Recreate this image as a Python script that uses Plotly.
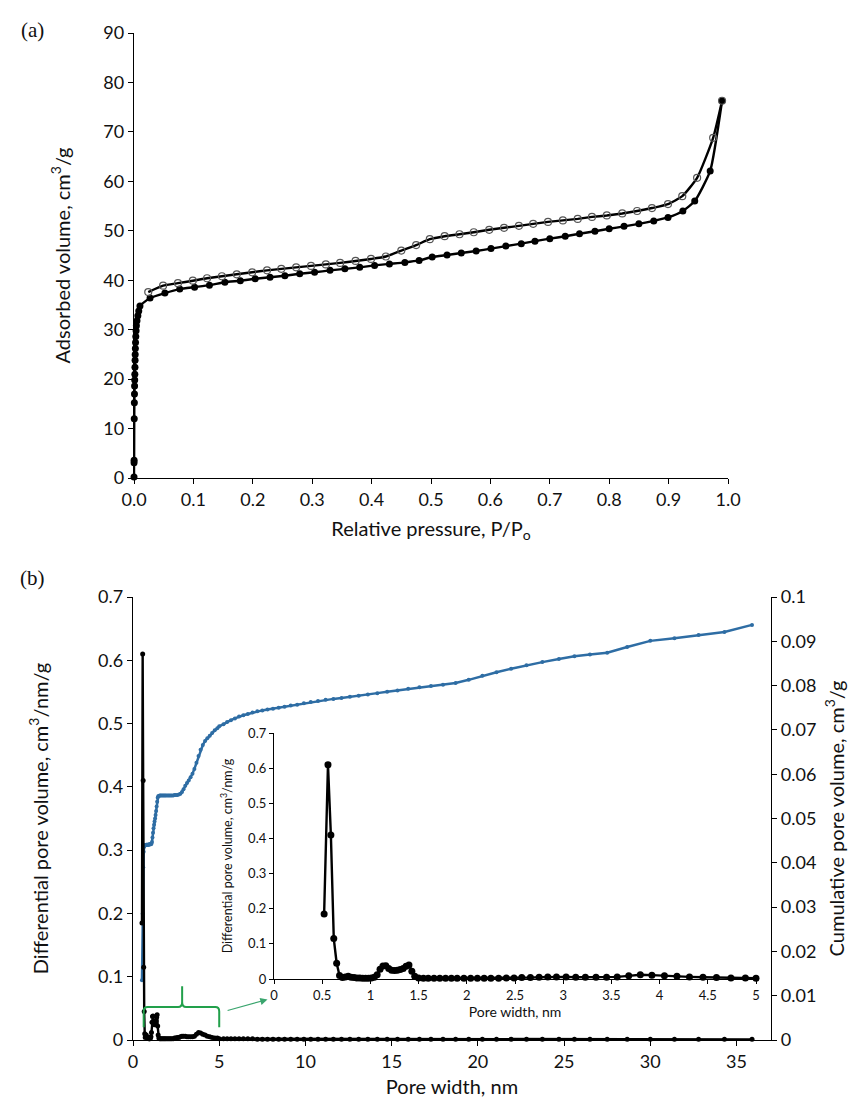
import plotly.graph_objects as go

W, H = 862, 1103

# ---------------- (a) N2 isotherm ----------------
ads_p = [0.0000, 0.0001, 0.0002, 0.0004, 0.0006, 0.0008, 0.0010, 0.0012, 0.0014, 0.0016,
         0.0018, 0.0020, 0.0023, 0.0026, 0.0030, 0.0035, 0.0040, 0.0050, 0.0065, 0.0080,
         0.0100, 0.027, 0.052, 0.077, 0.102, 0.127, 0.153, 0.179, 0.204, 0.229,
         0.254, 0.279, 0.304, 0.330, 0.355, 0.380, 0.405, 0.430, 0.456, 0.480,
         0.502, 0.527, 0.551, 0.576, 0.601, 0.626, 0.652, 0.675, 0.700, 0.726,
         0.750, 0.776, 0.800, 0.825, 0.850, 0.875, 0.899, 0.924, 0.944, 0.970, 0.990]
ads_v = [0.2, 3.1, 3.6, 12.0, 15.2, 17.0, 18.6, 19.8, 21.0, 22.4,
         23.8, 25.0, 26.2, 27.4, 28.6, 29.8, 30.8, 31.8, 32.8, 33.8,
         34.8, 36.4, 37.4, 38.2, 38.6, 39.0, 39.6, 39.9, 40.3, 40.6,
         40.9, 41.3, 41.6, 42.0, 42.3, 42.6, 43.0, 43.3, 43.6, 44.0,
         44.7, 45.1, 45.5, 45.9, 46.4, 46.9, 47.4, 47.9, 48.4, 48.9,
         49.4, 49.9, 50.4, 50.9, 51.4, 52.0, 52.7, 54.0, 56.0, 62.1, 76.3]

des_p = [0.024, 0.049, 0.074, 0.099, 0.123, 0.148, 0.173, 0.199, 0.224, 0.248,
         0.273, 0.298, 0.323, 0.347, 0.373, 0.399, 0.424, 0.450, 0.475, 0.498,
         0.523, 0.548, 0.572, 0.598, 0.623, 0.648, 0.672, 0.697, 0.722, 0.747,
         0.771, 0.796, 0.822, 0.847, 0.872, 0.899, 0.923, 0.948, 0.975, 0.990]
des_v = [37.6, 38.9, 39.4, 39.9, 40.4, 40.8, 41.2, 41.6, 42.0, 42.3,
         42.6, 42.9, 43.2, 43.5, 43.9, 44.3, 44.8, 46.0, 47.1, 48.3,
         48.9, 49.3, 49.7, 50.2, 50.6, 51.0, 51.4, 51.8, 52.1, 52.4,
         52.8, 53.1, 53.5, 54.0, 54.6, 55.4, 57.0, 60.7, 68.8, 76.3]

# ---------------- (b) pore size distribution ----------------
w_A = [0.52, 0.56, 0.59, 0.62, 0.65, 0.68, 0.71, 0.74, 0.77, 0.80,
       0.83, 0.86, 0.89, 0.92, 0.95, 0.98, 1.01, 1.04, 1.07, 1.10,
       1.13, 1.16, 1.19, 1.22, 1.25, 1.28, 1.31, 1.34, 1.37, 1.40,
       1.43, 1.46, 1.50]
dv_A = [0.185, 0.610, 0.410, 0.115, 0.045, 0.010, 0.004, 0.006, 0.008, 0.005,
        0.004, 0.003, 0.003, 0.002, 0.002, 0.002, 0.003, 0.005, 0.012, 0.028,
        0.037, 0.038, 0.030, 0.025, 0.024, 0.025, 0.027, 0.030, 0.036, 0.040,
        0.022, 0.008, 0.003]
cv_A = [0.0135, 0.0285, 0.0390, 0.0425, 0.0436, 0.0439, 0.0440, 0.0440, 0.0441, 0.0441,
        0.0441, 0.0441, 0.0441, 0.0441, 0.0442, 0.0442, 0.0442, 0.0442, 0.0443, 0.0447,
        0.0457, 0.0468, 0.0478, 0.0486, 0.0493, 0.0500, 0.0508, 0.0517, 0.0527, 0.0538,
        0.0547, 0.0550, 0.0551]

w_B = [1.55, 1.60, 1.66, 1.72, 1.78, 1.84, 1.90, 1.97, 2.04, 2.11,
       2.18, 2.25, 2.33, 2.41, 2.49, 2.57, 2.66, 2.75, 2.84, 2.93,
       3.03, 3.13, 3.23, 3.34, 3.45, 3.56, 3.68, 3.80, 3.92, 4.05,
       4.18, 4.31, 4.45, 4.59, 4.74, 4.89, 5.00]
dv_B = [0.002, 0.002, 0.002, 0.002, 0.002, 0.002, 0.002, 0.002, 0.002, 0.002,
        0.002, 0.002, 0.002, 0.003, 0.003, 0.004, 0.004, 0.005, 0.006, 0.006,
        0.006, 0.005, 0.005, 0.005, 0.005, 0.006, 0.009, 0.012, 0.011, 0.009,
        0.008, 0.006, 0.005, 0.004, 0.003, 0.003, 0.002]
cv_B = [0.0552, 0.0552, 0.0552, 0.0552, 0.0552, 0.0552, 0.0552, 0.0552, 0.0552, 0.0552,
        0.0552, 0.0552, 0.0552, 0.0553, 0.0553, 0.0553, 0.0554, 0.0556, 0.0560, 0.0566,
        0.0574, 0.0580, 0.0586, 0.0593, 0.0601, 0.0612, 0.0626, 0.0641, 0.0655, 0.0666,
        0.0675, 0.0681, 0.0687, 0.0693, 0.0699, 0.0704, 0.0708]

w_C = [5.25, 5.46, 5.68, 5.91, 6.15, 6.40, 6.66, 6.93, 7.21, 7.50,
       7.80, 8.12, 8.45, 8.79, 9.15, 9.52, 9.91, 10.31, 10.73, 11.17,
       11.62, 12.09, 12.58, 13.09, 13.62, 14.17, 14.74, 15.34, 15.96, 16.61,
       17.28, 17.98, 18.71, 19.47, 20.26, 21.08, 21.93, 22.82, 23.74, 24.70,
       25.60, 26.50, 27.50, 28.66, 30.00, 31.40, 32.80, 34.30, 35.90]
dv_C = [0.002, 0.002, 0.002, 0.002, 0.002, 0.002, 0.002, 0.002, 0.001, 0.001,
        0.001, 0.001, 0.001, 0.001, 0.001, 0.001, 0.001, 0.001, 0.001, 0.001,
        0.001, 0.001, 0.001, 0.001, 0.001, 0.001, 0.001, 0.001, 0.001, 0.001,
        0.001, 0.001, 0.001, 0.001, 0.001, 0.001, 0.001, 0.001, 0.001, 0.001,
        0.001, 0.001, 0.001, 0.001, 0.001, 0.001, 0.001, 0.001, 0.001]
cv_C = [0.0713, 0.0718, 0.0722, 0.0726, 0.0730, 0.0733, 0.0736, 0.0739, 0.0742, 0.0744,
        0.0746, 0.0748, 0.0750, 0.0752, 0.0755, 0.0757, 0.0760, 0.0763, 0.0765, 0.0768,
        0.0770, 0.0772, 0.0775, 0.0777, 0.0780, 0.0783, 0.0786, 0.0789, 0.0793, 0.0796,
        0.0799, 0.0802, 0.0806, 0.0813, 0.0822, 0.0830, 0.0838, 0.0846, 0.0853, 0.0860,
        0.0866, 0.0870, 0.0874, 0.0887, 0.0901, 0.0907, 0.0914, 0.0921, 0.0937]

pore_w = w_A + w_B + w_C
diff_v = dv_A + dv_B + dv_C
cum_v = cv_A + cv_B + cv_C
inset_w = [w for w in pore_w if w <= 5.0]
inset_v = diff_v[:len(inset_w)]

BLUE = "#2E6DA4"
GREEN = "#22A04B"
FONT = "Lato"
TXT = "#111111"


def fx(p):
    return p / W


def fy(p):
    return 1 - p / H


fig = go.Figure()

# (a)
fig.add_trace(go.Scatter(x=ads_p, y=ads_v, mode="lines+markers", xaxis="x", yaxis="y",
                         line=dict(color="black", width=2.4, shape="spline", smoothing=0.5),
                         marker=dict(symbol="circle", size=7, color="black"),
                         cliponaxis=False, showlegend=False))
fig.add_trace(go.Scatter(x=des_p, y=des_v, mode="lines+markers", xaxis="x", yaxis="y",
                         line=dict(color="black", width=2.4, shape="spline", smoothing=0.5),
                         marker=dict(symbol="circle-open", size=7, color="#555555", line=dict(width=1.2)),
                         cliponaxis=False, showlegend=False))

# (b) main: cumulative (base axis y2, right) and differential (overlay y3, left)
fig.add_trace(go.Scatter(x=pore_w, y=cum_v, mode="lines+markers", xaxis="x2", yaxis="y2",
                         line=dict(color=BLUE, width=2.5),
                         marker=dict(symbol="circle", size=4, color=BLUE),
                         cliponaxis=False, showlegend=False))
fig.add_trace(go.Scatter(x=pore_w, y=diff_v, mode="lines+markers", xaxis="x2", yaxis="y3",
                         line=dict(color="black", width=2.4),
                         marker=dict(symbol="circle", size=5, color="black"),
                         cliponaxis=False, showlegend=False))
# inset
fig.add_trace(go.Scatter(x=inset_w, y=inset_v, mode="lines+markers", xaxis="x4", yaxis="y4",
                         line=dict(color="black", width=2.4),
                         marker=dict(symbol="circle", size=7, color="black"),
                         cliponaxis=False, showlegend=False))

axis_common = dict(showline=True, linecolor="black", linewidth=1.3, ticks="outside", ticklen=5,
                   tickwidth=1.3, tickcolor="black", showgrid=False, zeroline=False,
                   tickfont=dict(family=FONT, size=18, color=TXT))
inset_common = dict(axis_common, tickfont=dict(family=FONT, size=13, color=TXT), ticklen=4)


def ttl(text, size, standoff):
    return dict(text=text, font=dict(family=FONT, size=size, color=TXT), standoff=standoff)


fig.update_layout(
    width=W, height=H, margin=dict(l=0, r=0, t=0, b=0),
    paper_bgcolor="white", plot_bgcolor="rgba(0,0,0,0)",
    font=dict(family=FONT, color=TXT),
    xaxis=dict(axis_common, domain=[fx(126), fx(720)], range=[0, 1.0], tick0=0, dtick=0.1,
               tickformat=".1f", anchor="y", automargin=False,
               title=ttl("Relative pressure, P/P<sub>o</sub>", 20, 13)),
    yaxis=dict(axis_common, domain=[fy(470), fy(25)], range=[0, 90], tick0=0, dtick=10, anchor="x",
               automargin=False, title=ttl("Adsorbed volume, cm<sup>3</sup>/g", 20, 27)),
    xaxis2=dict(axis_common, domain=[fx(125), fx(763)], range=[0, 37], tick0=0, dtick=5, anchor="y2",
                automargin=False, title=ttl("Pore width, nm", 20, 9)),
    yaxis2=dict(axis_common, domain=[fy(1032), fy(589)], range=[0, 0.1], tick0=0, dtick=0.01,
                side="right", anchor="x2", automargin=False,
                title=ttl("Cumulative pore volume, cm<sup>3</sup>/g", 20, 14)),
    yaxis3=dict(axis_common, range=[0, 0.7], tick0=0, dtick=0.1, side="left",
                overlaying="y2", anchor="x2", automargin=False,
                title=ttl("Differential pore volume, cm<sup>3</sup>/nm/g", 20, 44)),
    xaxis4=dict(inset_common, domain=[fx(266), fx(748)], range=[0, 5], tick0=0, dtick=0.5, anchor="y4",
                automargin=False, title=ttl("Pore width, nm", 14, 5)),
    yaxis4=dict(inset_common, domain=[fy(971), fy(725)], range=[0, 0.7], tick0=0, dtick=0.1, anchor="x4",
                automargin=False, title=ttl("Differential pore volume, cm<sup>3</sup>/nm/g", 12.5, 12)),
)

for txt, yy in (("(a)", 22), ("(b)", 570)):
    fig.add_annotation(text=txt, x=fx(24), y=fy(yy), xref="paper", yref="paper",
                       showarrow=False, xanchor="center", yanchor="middle",
                       font=dict(family="Liberation Serif", size=21, color=TXT))

# green curly bracket marking the 0-5 nm region shown in the inset
fig.add_shape(type="path", xref="x2", yref="y3",
              path=("M 0.62,0.020 L 0.62,0.045 Q 0.62,0.052 0.85,0.052 L 2.62,0.052 "
                    "Q 2.85,0.052 2.85,0.060 L 2.85,0.085 M 2.85,0.060 Q 2.85,0.052 3.08,0.052 "
                    "L 4.77,0.052 Q 5.0,0.052 5.0,0.045 L 5.0,0.020"),
              line=dict(color=GREEN, width=2))
fig.add_annotation(x=7.8, y=0.064, ax=5.4, ay=0.046, xref="x2", yref="y3", axref="x2", ayref="y3",
                   showarrow=True, arrowhead=2, arrowsize=1.2, arrowwidth=1.2, arrowcolor="#3AA56E",
                   text=" ", font=dict(size=1))

fig.write_html("out.html")
